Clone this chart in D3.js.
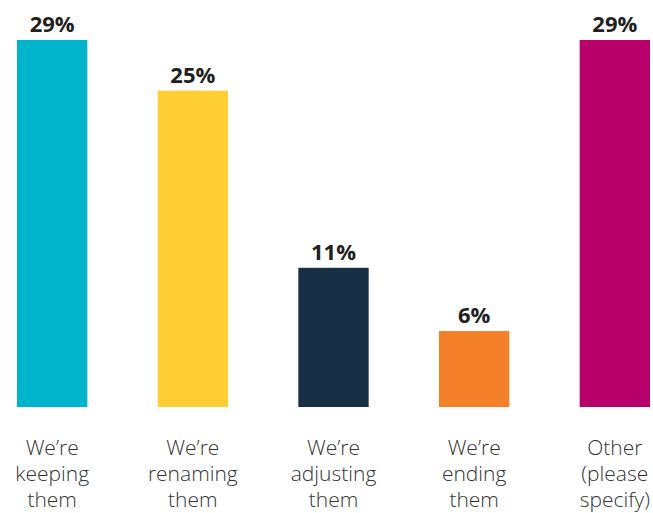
<!DOCTYPE html>
<html>
<head>
<meta charset="utf-8">
<script src="https://cdn.jsdelivr.net/npm/d3@7"></script>
<style>
  html, body { margin: 0; padding: 0; background: #fff; }
  svg { display: block; }
</style>
</head>
<body>
<div id="chart"></div>
<script>
// data
const categories = ["keeping", "renaming", "adjusting", "ending", "other"];
const labelLines = [
    ["We\u2019re", "keeping", "them"],
    ["We\u2019re", "renaming", "them"],
    ["We\u2019re", "adjusting", "them"],
    ["We\u2019re", "ending", "them"],
    ["Other", "(please", "specify)"]
];
const values = [29, 25, 11, 6, 29];
const colors = ["#00b5cb", "#ffcd34", "#172f45", "#f48029", "#b8006a"];

const width = 653, height = 513;
const margins = { top: 40, right: 3, bottom: 106, left: 17 };

const svg = d3.select("#chart").append("svg")
    .attr("width", width)
    .attr("height", height);

const innerWidth = width - margins.left - margins.right;
const innerHeight = height - margins.top - margins.bottom;

const g = svg.append("g")
    .attr("transform", `translate(${margins.left},${margins.top})`);

const x = d3.scaleBand().domain(categories).range([0, innerWidth])
    .paddingInner(0.5).paddingOuter(0);
const y = d3.scaleLinear().domain([0, d3.max(values)]).range([innerHeight, 0]);

const data = categories.map((c, i) => ({ key: c, value: values[i], color: colors[i], lines: labelLines[i] }));

// bars
g.selectAll("rect.bar")
    .data(data)
    .join("rect")
    .attr("class", "bar")
    .attr("x", d => x(d.key))
    .attr("y", d => y(d.value))
    .attr("width", x.bandwidth())
    .attr("height", d => innerHeight - y(d.value))
    .attr("fill", d => d.color);

// value labels
g.selectAll("text.value")
    .data(data)
    .join("text")
    .attr("class", "value")
    .attr("x", d => x(d.key) + x.bandwidth() / 2)
    .attr("y", d => y(d.value) - 8)
    .attr("text-anchor", "middle")
    .attr("font-family", "'Open Sans', sans-serif")
    .attr("font-weight", 700)
    .attr("font-size", 22)
    .attr("fill", "#231f20")
    .text(d => d.value + "%");

// category labels, one text per line
const lineData = data.flatMap(d => d.lines.map((t, i) => ({ key: d.key, text: t, row: i })));
g.selectAll("text.cat")
    .data(lineData)
    .join("text")
    .attr("class", "cat")
    .attr("x", d => x(d.key) + x.bandwidth() / 2)
    .attr("y", d => innerHeight + 48 + d.row * 26)
    .attr("text-anchor", "middle")
    .attr("font-family", "'Open Sans', sans-serif")
    .attr("font-weight", 300)
    .attr("font-size", 21)
    .attr("fill", "#333333")
    .text(d => d.text);
</script>
</body>
</html>
